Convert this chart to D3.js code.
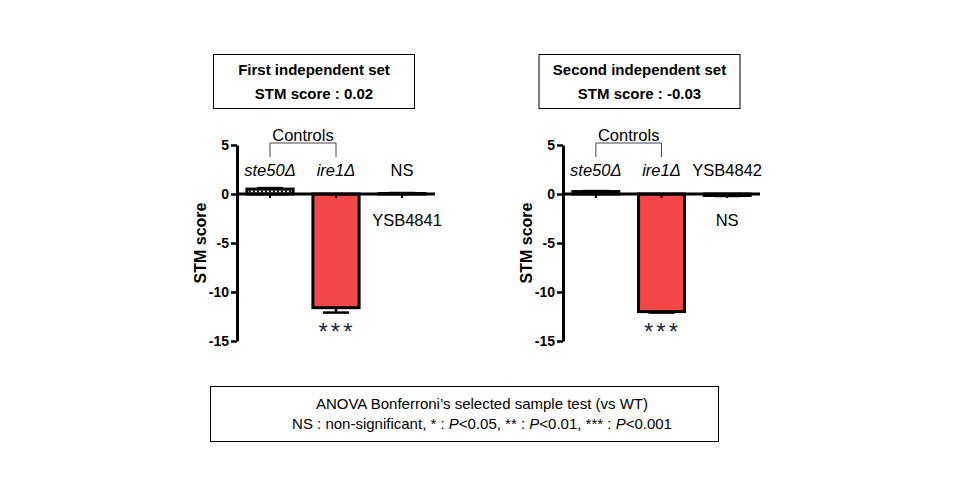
<!DOCTYPE html>
<html>
<head>
<meta charset="utf-8">
<script src="https://cdn.jsdelivr.net/npm/d3@7"></script>
<style>
  body { margin: 0; background: #fff; }
  text { font-family: "Liberation Sans", Arial, sans-serif; }
</style>
</head>
<body>
<div id="chart"></div>
<script>
// values
var strains1 = ["ste50Δ", "ire1Δ", "YSB4841"];
var scores1 = [0.5, -11.6, 0.05];
var errors1 = [0.1, 0.5, 0.05];
var strains2 = ["ste50Δ", "ire1Δ", "YSB4842"];
var scores2 = [0.25, -12.0, -0.15];
var errors2 = [0.05, 0.1, 0.05];
var signif = ["", "***", "NS"];
var yTicks = [5, 0, -5, -10, -15];
var titles1 = ["First independent set", "STM score : 0.02"];
var titles2 = ["Second independent set", "STM score : -0.03"];

var W = 960, H = 500;
var svg = d3.select("#chart").append("svg")
  .attr("width", W)
  .attr("height", H);

var red = "#f54747";

function drawPanel(x0, x1, strains, scores, errors, titles, nameBelow) {
  var data = strains.map(function(s, i) {
    return {name: s, value: scores[i], err: errors[i], sig: signif[i], i: i};
  });

  var x = d3.scaleBand()
    .domain(strains)
    .range([x0, x1])
    .paddingInner(0.3)
    .paddingOuter(0.15);

  var y = d3.scaleLinear()
    .domain([5, -15])
    .range([145, 341]);

  // bars
  svg.selectAll(null)
    .data(data)
    .enter()
    .append("rect")
    .attr("x", d => x(d.name))
    .attr("y", d => y(Math.max(0, d.value)))
    .attr("width", x.bandwidth())
    .attr("height", d => Math.abs(y(d.value) - y(0)))
    .attr("fill", d => d.i == 1 ? red : "#fff")
    .attr("stroke", "#000")
    .attr("stroke-width", 3);

  // dotted look of the small control bar
  var d0 = data[0];
  if (Math.abs(y(d0.value) - y(0)) > 4) {
    svg.append("line")
      .attr("x1", x(d0.name) + 2).attr("x2", x(d0.name) + x.bandwidth() - 2)
      .attr("y1", (y(d0.value) + y(0)) / 2).attr("y2", (y(d0.value) + y(0)) / 2)
      .attr("stroke", "#000").attr("stroke-width", 2)
      .attr("stroke-dasharray", "2,2");
  }

  // error bars
  var cap = 13;
  data.forEach(function(d) {
    var cx = x(d.name) + x.bandwidth() / 2;
    var end = d.value + (d.value < 0 ? -d.err : d.err);
    svg.append("line")
      .attr("x1", cx).attr("x2", cx)
      .attr("y1", y(d.value)).attr("y2", y(end))
      .attr("stroke", "#000").attr("stroke-width", 2.5);
    svg.append("line")
      .attr("x1", cx - cap).attr("x2", cx + cap)
      .attr("y1", y(end)).attr("y2", y(end))
      .attr("stroke", "#000").attr("stroke-width", 2.5);
  });

  // x axis at zero
  var xAxis = svg.append("g")
    .attr("transform", "translate(0," + y(0) + ")")
    .call(d3.axisBottom(x).tickSize(4).tickFormat(""));
  xAxis.select(".domain").attr("stroke-width", 3).attr("d", "M" + x0 + ",0H" + x1);
  xAxis.selectAll(".tick line").attr("stroke-width", 2);

  // y axis
  var yAxis = svg.append("g")
    .attr("transform", "translate(" + x0 + ",0)")
    .call(d3.axisLeft(y).tickValues(yTicks).tickSize(6).tickSizeOuter(0)
      .tickFormat(d => String(d)));
  yAxis.select(".domain").attr("stroke-width", 3);
  yAxis.selectAll(".tick line").attr("stroke-width", 2.5);
  yAxis.selectAll(".tick text")
    .attr("x", -8)
    .style("font-family", "'Liberation Sans', Arial, sans-serif")
    .style("font-size", "14px")
    .style("font-weight", "bold")
    .attr("fill", "#000");

  svg.append("text")
    .attr("transform", "translate(" + (x0 - 37) + "," + y(-5) + ") rotate(-90)")
    .attr("text-anchor", "middle")
    .attr("dy", "0.35em")
    .style("font-size", "16px")
    .style("font-weight", "bold")
    .text("STM score");

  // strain names and significance marks
  data.forEach(function(d) {
    var cx = x(d.name) + x.bandwidth() / 2;
    var below = nameBelow && d.i == 2;
    svg.append("text")
      .attr("x", cx + (below ? 5 : 0))
      .attr("y", below ? 226 : 176)
      .attr("text-anchor", "middle")
      .style("font-size", "16.5px")
      .style("font-style", d.i < 2 ? "italic" : "normal")
      .text(d.name);
    if (d.sig == "NS") {
      svg.append("text")
        .attr("x", cx)
        .attr("y", below ? 176 : 226)
        .attr("text-anchor", "middle")
        .style("font-size", "16.5px")
        .text(d.sig);
    } else if (d.sig) {
      svg.append("text")
        .attr("x", cx + 1)
        .attr("y", 340)
        .attr("text-anchor", "middle")
        .style("font-size", "24px")
        .style("letter-spacing", "3px")
        .attr("fill", "#1a2a44")
        .text(d.sig);
    }
  });

  // Controls bracket over the first two strains
  var c0 = x(strains[0]) + x.bandwidth() / 2,
      c1 = x(strains[1]) + x.bandwidth() / 2;
  svg.append("path")
    .attr("d", "M" + c0 + ",157V143H" + c1 + "V157")
    .attr("fill", "none")
    .attr("stroke", "#444")
    .attr("stroke-width", 1);
  svg.append("text")
    .attr("x", (c0 + c1) / 2)
    .attr("y", 141)
    .attr("text-anchor", "middle")
    .style("font-size", "16.5px")
    .text("Controls");

  // title box
  var bx = (x0 + x1) / 2 - 22;
  svg.append("rect")
    .attr("x", bx - 100.5).attr("y", 54.5)
    .attr("width", 201).attr("height", 54)
    .attr("fill", "none").attr("stroke", "#000").attr("stroke-width", 1);
  titles.forEach(function(t, i) {
    svg.append("text")
      .attr("x", bx)
      .attr("y", 75 + i * 24)
      .attr("text-anchor", "middle")
      .style("font-size", "15px")
      .style("font-weight", "bold")
      .text(t);
  });
}

drawPanel(237, 435, strains1, scores1, errors1, titles1, true);
drawPanel(563, 760, strains2, scores2, errors2, titles2, false);

// legend box at the bottom
svg.append("rect")
  .attr("x", 210.5).attr("y", 386.5)
  .attr("width", 508).attr("height", 55)
  .attr("fill", "none").attr("stroke", "#000").attr("stroke-width", 1);

svg.append("text")
  .attr("x", 482).attr("y", 409)
  .attr("text-anchor", "middle")
  .style("font-size", "15px")
  .text("ANOVA Bonferroni’s selected sample test (vs WT)");

var note = svg.append("text")
  .attr("x", 482).attr("y", 429)
  .attr("text-anchor", "middle")
  .style("font-size", "15px");
note.append("tspan").text("NS : non-significant, * : ");
note.append("tspan").style("font-style", "italic").text("P");
note.append("tspan").text("<0.05, ** : ");
note.append("tspan").style("font-style", "italic").text("P");
note.append("tspan").text("<0.01, *** : ");
note.append("tspan").style("font-style", "italic").text("P");
note.append("tspan").text("<0.001");
</script>
</body>
</html>
